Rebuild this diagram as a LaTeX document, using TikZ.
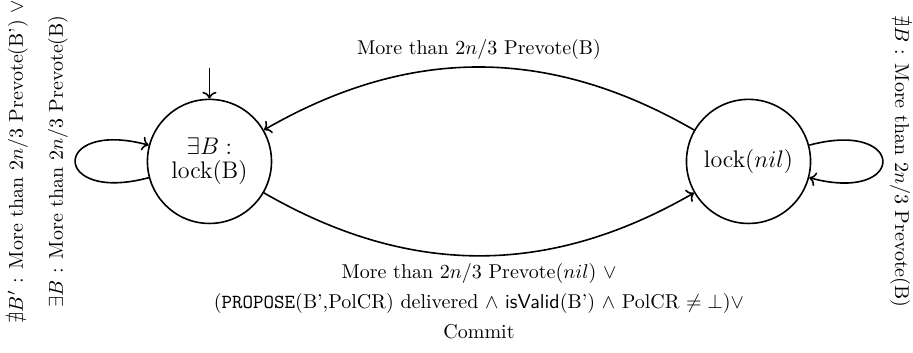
\documentclass[tikz,border=0pt]{standalone}
\usepackage{amsmath, amssymb}
\usepackage{tikz}
\usetikzlibrary{arrows.meta}

\tikzset{
  lockstate/.style={draw, thick, circle, minimum size=2.18cm, inner sep=1pt, align=center, font=\large},
  trans/.style={->, thick},
}

\begin{document}
\begin{tikzpicture}
\useasboundingbox (0,0) rectangle (16.04,6.186);
% states
\node[lockstate] (lockB) at (3.68,3.35) {$\exists B:$\\[-2pt]lock(B)};
\node[lockstate] (locknil) at (13.15,3.35) {lock($nil$)};
% initial arrow
\coordinate (init) at (3.68,4.99);
\draw[trans] (init) -- (lockB);
% self loops with rotated labels
\draw[trans] (lockB) to[loop left]
  node[midway, rotate=90, anchor=south, align=center]
  {$\nexists B'$ : More than $2n/3$ Prevote(B') $\vee$\\[8pt]$\exists B$ : More than $2n/3$ Prevote(B)} (lockB);
\draw[trans] (locknil) to[loop right]
  node[midway, rotate=-90, anchor=south] {$\nexists B$ : More than $2n/3$ Prevote(B)} (locknil);
% transitions between the two states
\draw[trans] (locknil) to[bend right=30]
  node[midway, above] {More than $2n/3$ Prevote(B)} (lockB);
\draw[trans] (lockB) to[bend right=30]
  node[midway, below, align=center]
  {More than $2n/3$ Prevote($nil$) $\vee$\\[3pt]
   (\texttt{PROPOSE}(B',PolCR) delivered $\wedge$ \textsf{isValid}(B') $\wedge$ PolCR $\neq \bot$)$\vee$\\[3pt]
   Commit} (locknil);
\end{tikzpicture}
\end{document}
